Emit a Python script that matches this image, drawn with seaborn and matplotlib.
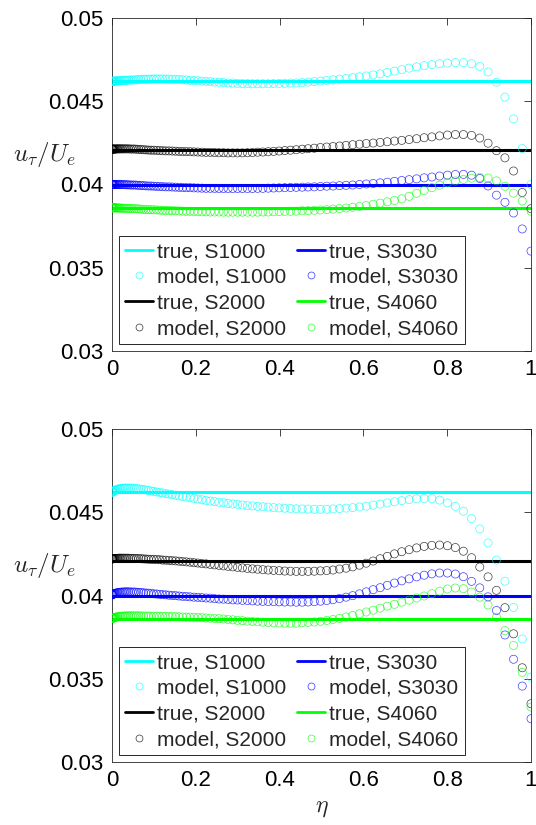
import numpy as np
import pandas as pd
import matplotlib
matplotlib.use("Agg")
import matplotlib.pyplot as plt
from matplotlib.lines import Line2D
import seaborn as sns

# ---------------- data ----------------
cases = ["S1000", "S2000", "S3030", "S4060"]
case_colors = ["#00FFFF", "#000000", "#0000FF", "#00FF00"]
true_vals = [0.0462, 0.0421, 0.0400, 0.0386]

eta = [0, 0.0001, 0.0004, 0.0010, 0.0018, 0.0028, 0.0040, 0.0054, 0.0071, 0.0090,
       0.0111, 0.0134, 0.0160, 0.0187, 0.0217, 0.0249, 0.0284, 0.0320, 0.0359, 0.0400,
       0.0443, 0.0489, 0.0536, 0.0586, 0.0638, 0.0693, 0.0749, 0.0808, 0.0869, 0.0932,
       0.0997, 0.1065, 0.1135, 0.1207, 0.1281, 0.1357, 0.1436, 0.1517, 0.1600, 0.1685,
       0.1773, 0.1863, 0.1955, 0.2049, 0.2145, 0.2244, 0.2345, 0.2448, 0.2553, 0.2660,
       0.2770, 0.2882, 0.2996, 0.3112, 0.3231, 0.3352, 0.3475, 0.3600, 0.3727, 0.3857,
       0.3989, 0.4123, 0.4259, 0.4398, 0.4539, 0.4681, 0.4827, 0.4974, 0.5124, 0.5275,
       0.5429, 0.5586, 0.5744, 0.5905, 0.6068, 0.6233, 0.6400, 0.6570, 0.6741, 0.6915,
       0.7091, 0.7270, 0.7450, 0.7633, 0.7818, 0.8006, 0.8195, 0.8387, 0.8581, 0.8777,
       0.8975, 0.9176, 0.9378, 0.9583, 0.9791, 1.0]

# top panel model values
top_S1000 = [0.04620, 0.04620, 0.04620, 0.04620, 0.04620, 0.04620, 0.04621, 0.04621, 0.04621, 0.04622,
             0.04622, 0.04622, 0.04623, 0.04623, 0.04624, 0.04624, 0.04625, 0.04625, 0.04626, 0.04627,
             0.04627, 0.04628, 0.04628, 0.04629, 0.04630, 0.04631, 0.04632, 0.04632, 0.04633, 0.04633,
             0.04634, 0.04634, 0.04634, 0.04634, 0.04633, 0.04633, 0.04632, 0.04632, 0.04631, 0.04629,
             0.04628, 0.04626, 0.04624, 0.04623, 0.04621, 0.04619, 0.04618, 0.04615, 0.04614, 0.04612,
             0.04610, 0.04609, 0.04607, 0.04606, 0.04606, 0.04605, 0.04605, 0.04605, 0.04605, 0.04606,
             0.04607, 0.04608, 0.04609, 0.04610, 0.04612, 0.04615, 0.04618, 0.04621, 0.04625, 0.04629,
             0.04633, 0.04637, 0.04642, 0.04647, 0.04652, 0.04658, 0.04665, 0.04673, 0.04681, 0.04690,
             0.04699, 0.04707, 0.04714, 0.04720, 0.04726, 0.04729, 0.04732, 0.04732, 0.04725, 0.04709,
             0.04676, 0.04614, 0.04525, 0.04394, 0.04216, 0.04000]
top_S2000 = [0.04212, 0.04212, 0.04212, 0.04212, 0.04212, 0.04213, 0.04213, 0.04213, 0.04213, 0.04213,
             0.04214, 0.04214, 0.04214, 0.04214, 0.04214, 0.04214, 0.04214, 0.04214, 0.04214, 0.04214,
             0.04213, 0.04213, 0.04213, 0.04212, 0.04211, 0.04210, 0.04209, 0.04208, 0.04207, 0.04206,
             0.04206, 0.04205, 0.04204, 0.04203, 0.04202, 0.04202, 0.04201, 0.04200, 0.04199, 0.04198,
             0.04198, 0.04197, 0.04196, 0.04195, 0.04194, 0.04193, 0.04193, 0.04192, 0.04191, 0.04191,
             0.04190, 0.04190, 0.04190, 0.04190, 0.04191, 0.04192, 0.04194, 0.04195, 0.04197, 0.04199,
             0.04201, 0.04204, 0.04206, 0.04209, 0.04212, 0.04215, 0.04218, 0.04222, 0.04225, 0.04228,
             0.04231, 0.04235, 0.04239, 0.04242, 0.04246, 0.04249, 0.04253, 0.04257, 0.04261, 0.04265,
             0.04270, 0.04275, 0.04281, 0.04286, 0.04292, 0.04297, 0.04300, 0.04300, 0.04295, 0.04279,
             0.04248, 0.04203, 0.04160, 0.04081, 0.03952, 0.03855]
top_S3030 = [0.04000, 0.04000, 0.04000, 0.04000, 0.04000, 0.04000, 0.04000, 0.04000, 0.04000, 0.04000,
             0.04000, 0.04000, 0.04000, 0.04000, 0.03999, 0.03999, 0.03999, 0.03999, 0.03998, 0.03998,
             0.03997, 0.03997, 0.03997, 0.03996, 0.03995, 0.03994, 0.03993, 0.03992, 0.03991, 0.03991,
             0.03990, 0.03989, 0.03988, 0.03987, 0.03986, 0.03986, 0.03985, 0.03984, 0.03983, 0.03982,
             0.03981, 0.03981, 0.03980, 0.03979, 0.03978, 0.03977, 0.03977, 0.03977, 0.03976, 0.03976,
             0.03976, 0.03976, 0.03976, 0.03976, 0.03976, 0.03976, 0.03977, 0.03977, 0.03978, 0.03979,
             0.03980, 0.03981, 0.03982, 0.03983, 0.03984, 0.03985, 0.03986, 0.03988, 0.03990, 0.03991,
             0.03993, 0.03995, 0.03997, 0.04000, 0.04003, 0.04006, 0.04010, 0.04014, 0.04019, 0.04024,
             0.04029, 0.04034, 0.04040, 0.04045, 0.04051, 0.04056, 0.04060, 0.04061, 0.04056, 0.04036,
             0.03991, 0.03936, 0.03893, 0.03829, 0.03733, 0.03600]
top_S4060 = [0.03860, 0.03860, 0.03860, 0.03860, 0.03860, 0.03860, 0.03860, 0.03860, 0.03860, 0.03860,
             0.03859, 0.03859, 0.03859, 0.03859, 0.03858, 0.03858, 0.03857, 0.03857, 0.03857, 0.03856,
             0.03856, 0.03855, 0.03855, 0.03854, 0.03853, 0.03852, 0.03851, 0.03850, 0.03849, 0.03849,
             0.03848, 0.03847, 0.03846, 0.03845, 0.03844, 0.03844, 0.03843, 0.03842, 0.03841, 0.03840,
             0.03839, 0.03839, 0.03838, 0.03837, 0.03836, 0.03836, 0.03835, 0.03835, 0.03835, 0.03834,
             0.03834, 0.03834, 0.03834, 0.03834, 0.03834, 0.03834, 0.03834, 0.03835, 0.03835, 0.03836,
             0.03837, 0.03838, 0.03839, 0.03840, 0.03842, 0.03843, 0.03845, 0.03847, 0.03849, 0.03852,
             0.03855, 0.03859, 0.03863, 0.03868, 0.03874, 0.03881, 0.03888, 0.03896, 0.03904, 0.03914,
             0.03929, 0.03947, 0.03964, 0.03981, 0.03996, 0.04010, 0.04021, 0.04030, 0.04038, 0.04042,
             0.04039, 0.04022, 0.03989, 0.03948, 0.03901, 0.03840]

# bottom panel model values
bot_S1000 = [0.04620, 0.04620, 0.04621, 0.04622, 0.04624, 0.04626, 0.04628, 0.04630, 0.04632, 0.04634,
             0.04636, 0.04638, 0.04640, 0.04641, 0.04643, 0.04644, 0.04645, 0.04645, 0.04645, 0.04645,
             0.04645, 0.04644, 0.04643, 0.04642, 0.04640, 0.04638, 0.04636, 0.04634, 0.04631, 0.04628,
             0.04625, 0.04622, 0.04619, 0.04616, 0.04612, 0.04609, 0.04606, 0.04602, 0.04598, 0.04595,
             0.04591, 0.04587, 0.04583, 0.04579, 0.04575, 0.04571, 0.04567, 0.04564, 0.04560, 0.04557,
             0.04553, 0.04550, 0.04547, 0.04544, 0.04540, 0.04538, 0.04535, 0.04533, 0.04531, 0.04528,
             0.04526, 0.04524, 0.04523, 0.04521, 0.04520, 0.04519, 0.04518, 0.04518, 0.04518, 0.04520,
             0.04522, 0.04525, 0.04528, 0.04532, 0.04537, 0.04543, 0.04549, 0.04556, 0.04563, 0.04570,
             0.04576, 0.04581, 0.04583, 0.04582, 0.04573, 0.04556, 0.04535, 0.04506, 0.04462, 0.04400,
             0.04316, 0.04213, 0.04086, 0.03928, 0.03739, 0.03510]
bot_S2000 = [0.04220, 0.04220, 0.04220, 0.04220, 0.04221, 0.04221, 0.04222, 0.04222, 0.04222, 0.04223,
             0.04223, 0.04223, 0.04224, 0.04224, 0.04224, 0.04224, 0.04224, 0.04224, 0.04224, 0.04224,
             0.04223, 0.04223, 0.04223, 0.04222, 0.04222, 0.04221, 0.04220, 0.04219, 0.04218, 0.04217,
             0.04217, 0.04216, 0.04215, 0.04213, 0.04212, 0.04211, 0.04209, 0.04208, 0.04206, 0.04204,
             0.04202, 0.04200, 0.04197, 0.04195, 0.04192, 0.04190, 0.04187, 0.04184, 0.04181, 0.04178,
             0.04175, 0.04172, 0.04169, 0.04166, 0.04163, 0.04160, 0.04158, 0.04155, 0.04153, 0.04151,
             0.04149, 0.04147, 0.04146, 0.04145, 0.04145, 0.04145, 0.04146, 0.04148, 0.04150, 0.04153,
             0.04159, 0.04164, 0.04172, 0.04182, 0.04194, 0.04207, 0.04221, 0.04235, 0.04250, 0.04263,
             0.04275, 0.04286, 0.04295, 0.04301, 0.04303, 0.04299, 0.04288, 0.04266, 0.04227, 0.04171,
             0.04112, 0.04031, 0.03927, 0.03770, 0.03566, 0.03350]
bot_S3030 = [0.04004, 0.04004, 0.04004, 0.04005, 0.04007, 0.04008, 0.04010, 0.04011, 0.04013, 0.04014,
             0.04015, 0.04017, 0.04018, 0.04019, 0.04020, 0.04021, 0.04021, 0.04022, 0.04022, 0.04022,
             0.04021, 0.04021, 0.04021, 0.04020, 0.04019, 0.04018, 0.04016, 0.04015, 0.04014, 0.04012,
             0.04010, 0.04009, 0.04007, 0.04005, 0.04004, 0.04002, 0.04000, 0.03999, 0.03997, 0.03995,
             0.03994, 0.03992, 0.03990, 0.03989, 0.03987, 0.03985, 0.03984, 0.03981, 0.03979, 0.03978,
             0.03976, 0.03974, 0.03973, 0.03971, 0.03970, 0.03968, 0.03966, 0.03965, 0.03964, 0.03963,
             0.03962, 0.03961, 0.03961, 0.03960, 0.03960, 0.03961, 0.03963, 0.03966, 0.03970, 0.03975,
             0.03982, 0.03990, 0.03999, 0.04010, 0.04022, 0.04035, 0.04047, 0.04061, 0.04075, 0.04088,
             0.04100, 0.04112, 0.04122, 0.04130, 0.04135, 0.04135, 0.04129, 0.04113, 0.04085, 0.04046,
             0.03992, 0.03910, 0.03763, 0.03617, 0.03456, 0.03260]
bot_S4060 = [0.03862, 0.03862, 0.03862, 0.03863, 0.03864, 0.03865, 0.03866, 0.03867, 0.03869, 0.03870,
             0.03871, 0.03872, 0.03873, 0.03874, 0.03875, 0.03876, 0.03877, 0.03877, 0.03877, 0.03878,
             0.03878, 0.03878, 0.03878, 0.03878, 0.03878, 0.03877, 0.03877, 0.03877, 0.03876, 0.03876,
             0.03876, 0.03876, 0.03875, 0.03875, 0.03875, 0.03874, 0.03874, 0.03873, 0.03872, 0.03871,
             0.03870, 0.03870, 0.03869, 0.03868, 0.03867, 0.03865, 0.03864, 0.03862, 0.03861, 0.03859,
             0.03856, 0.03854, 0.03851, 0.03849, 0.03846, 0.03844, 0.03842, 0.03840, 0.03838, 0.03836,
             0.03835, 0.03834, 0.03834, 0.03834, 0.03836, 0.03838, 0.03841, 0.03845, 0.03850, 0.03856,
             0.03863, 0.03871, 0.03880, 0.03890, 0.03901, 0.03912, 0.03924, 0.03936, 0.03947, 0.03960,
             0.03972, 0.03985, 0.03997, 0.04011, 0.04026, 0.04039, 0.04045, 0.04041, 0.04021, 0.03990,
             0.03943, 0.03869, 0.03789, 0.03700, 0.03539, 0.03330]

x_ticks = [0, 0.2, 0.4, 0.6, 0.8, 1]
x_tick_labels = ["0", "0.2", "0.4", "0.6", "0.8", "1"]
y_ticks = [0.03, 0.035, 0.04, 0.045, 0.05]
y_tick_labels = ["0.03", "0.035", "0.04", "0.045", "0.05"]

# ---------------- style ----------------
sns.set_style("white")
plt.rcParams["font.family"] = ["Liberation Sans", "DejaVu Sans"]
plt.rcParams["mathtext.fontset"] = "cm"

W, H = 536, 825
fig = plt.figure(figsize=(W / 100, H / 100), dpi=100)
ax_top = fig.add_axes([112 / W, 1 - 351 / H, 419 / W, 333 / H])
ax_bot = fig.add_axes([112 / W, 1 - 762 / H, 419 / W, 333 / H])

axis_col = "#262626"


def draw_panel(ax, model_series, show_xlabel):
    handles, labels = [], []
    for case, col, tv, mv in zip(cases, case_colors, true_vals, model_series):
        ax.axhline(tv, color=col, lw=2.2, zorder=2)
        df = pd.DataFrame({"eta": eta, "u": mv})
        sns.scatterplot(data=df, x="eta", y="u", ax=ax, marker="o", s=34,
                        color=col, facecolors="none", edgecolor=col,
                        linewidth=0.5, alpha=0.75, legend=False, zorder=3)
        handles.append(Line2D([], [], color=col, lw=2.0))
        labels.append(f"true, {case}")
        handles.append(Line2D([], [], ls="none", marker="o", ms=5,
                              mfc="none", mec=col, mew=0.5, alpha=0.8))
        labels.append(f"model, {case}")

    ax.set_xlim(0, 1)
    ax.set_ylim(0.03, 0.05)
    ax.set_xticks(x_ticks)
    ax.set_xticklabels(x_tick_labels)
    ax.set_yticks(y_ticks)
    ax.set_yticklabels(y_tick_labels)
    ax.tick_params(direction="in", top=True, right=True, length=5, width=0.6,
                   labelsize=16, colors=axis_col, labelcolor="black", pad=6)
    for sp in ax.spines.values():
        sp.set_color(axis_col)
        sp.set_linewidth(0.6)
        sp.set_visible(True)
    ax.set_xlabel("")
    ax.set_ylabel(r"$u_\tau/U_e$", fontsize=18, rotation=0,
                  ha="right", va="center")
    ax.yaxis.set_label_coords(-0.087, 0.59)
    if show_xlabel:
        ax.set_xlabel(r"$\eta$", fontsize=17, labelpad=4)

    leg = ax.legend(handles, labels, ncol=2, loc="lower left", fontsize=15,
                    frameon=True, fancybox=False, framealpha=1,
                    edgecolor=axis_col, handlelength=1.35, handletextpad=0.2,
                    columnspacing=0.5, borderpad=0.3, labelspacing=0.32,
                    borderaxespad=0.32)
    leg.get_frame().set_linewidth(0.7)


draw_panel(ax_top, [top_S1000, top_S2000, top_S3030, top_S4060], False)
draw_panel(ax_bot, [bot_S1000, bot_S2000, bot_S3030, bot_S4060], True)

fig.savefig("out.png", dpi=100)
